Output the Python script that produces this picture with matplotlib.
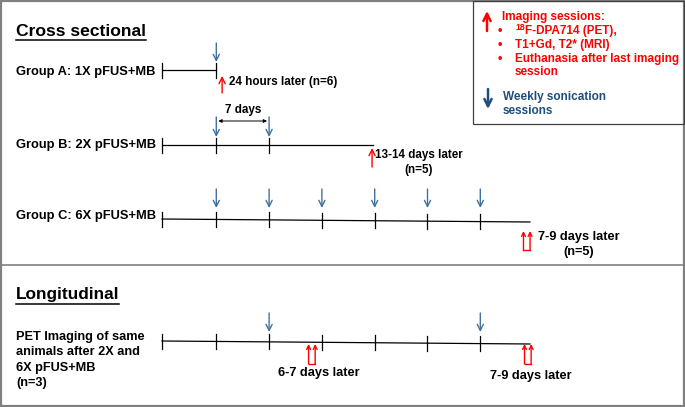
import matplotlib
matplotlib.use('Agg')
import matplotlib.pyplot as plt

# Timeline data, in weeks from the first (baseline) mark
week_ticks_a = [1]
sonication_a = [1]
imaging_a = [1.11]
end_a = 1.0

week_ticks_b = [1, 2]
sonication_b = [1, 2]
imaging_b = [3.95]
end_b = 3.97

week_ticks_c = [1, 2, 3, 4, 5, 6]
sonication_c = [1, 2, 3, 4, 5, 6]
imaging_c = [6.88]
end_c = 6.94

week_ticks_long = [1, 2, 3, 4, 5, 6]
sonication_long = [2, 6]
imaging_long = [2.81, 6.9]
end_long = 6.94

group_labels = ['Group A: 1X pFUS+MB', 'Group B: 2X pFUS+MB', 'Group C: 6X pFUS+MB']
long_label = ['PET Imaging of same', 'animals after 2X and', '6X pFUS+MB', '(n=3)']
legend_red_lines = ['F-DPA714 (PET),', 'T1+Gd, T2* (MRI)',
                    'Euthanasia after last imaging', 'session']
legend_blue_lines = ['Weekly sonication', 'sessions']

RED = '#FF0000'
BLUE = '#41719C'
DARK_BLUE = '#1F4E79'
FONT = 'Liberation Sans'

X0 = 163.5      # pixel x of week 0
WEEK = 52.8     # pixels per week


def wx(w):
    return X0 + WEEK * w


fig = plt.figure(figsize=(6.85, 4.07), dpi=100)
ax = fig.add_axes([0, 0, 1, 1])
ax.set_xlim(0, 685)
ax.set_ylim(407, 0)
ax.axis('off')

plt.rcParams['font.family'] = FONT
plt.rcParams['font.weight'] = 'bold'


def arrow(x, y_from, y_to, color, lw=1.0, ms=11):
    ax.annotate('', xy=(x, y_to), xytext=(x, y_from),
                arrowprops=dict(arrowstyle='->', color=color, lw=lw,
                                shrinkA=0, shrinkB=0, mutation_scale=ms))


def double_arrow(x, y_bottom, y_top):
    for dx in (-3.3, 3.3):
        arrow(x + dx, y_bottom, y_top, RED, lw=1.0, ms=7)
    ax.plot([x - 3.3, x + 3.3], [y_bottom, y_bottom], color=RED, lw=1.0)


def timeline(y_start, y_end, end_week, ticks, half=7.5):
    xs, xe = 162, wx(end_week)
    ax.plot([xs, xe], [y_start, y_end], color='black', lw=0.9)

    def line_y(x):
        return y_start + (y_end - y_start) * (x - xs) / (xe - xs)
    ax.plot([xs, xs], [y_start - half, y_start + half], color='black', lw=0.9)
    for w in ticks:
        x = wx(w)
        ax.plot([x, x], [line_y(x) - half, line_y(x) + half], color='black', lw=0.9)
    return line_y


# outer frame and divider
ax.add_patch(plt.Rectangle((1, 1), 683, 405, fill=False, ec='#808080', lw=1.6))
ax.plot([1, 684], [265, 265], color='#808080', lw=1.2)

# legend box
ax.add_patch(plt.Rectangle((473, 1), 211, 123, fill=False, ec='#404040', lw=0.9))

# section titles
titles = []
titles.append(ax.text(16, 31, 'Cross sectional', fontsize=12.6, va='center'))
titles.append(ax.text(16, 295, 'Longitudinal', fontsize=12.4, va='center'))

# Group A
ax.text(16, 72, group_labels[0], fontsize=9.3, va='center')
timeline(70, 70, end_a, week_ticks_a)
for w in sonication_a:
    arrow(wx(w), 43, 62, BLUE)
for w in imaging_a:
    arrow(wx(w), 93, 76, RED)
ax.text(229, 82, '24 hours later (n=6)', fontsize=8.4, va='center')

# Group B
ax.text(16, 145, group_labels[1], fontsize=9.3, va='center')
timeline(145, 145, end_b, week_ticks_b)
for w in sonication_b:
    arrow(wx(w), 117, 137, BLUE)
ax.annotate('', xy=(wx(sonication_b[1]) - 2, 121), xytext=(wx(sonication_b[0]) + 2, 121),
            arrowprops=dict(arrowstyle='<|-|>', color='black', lw=0.7,
                            shrinkA=0, shrinkB=0, mutation_scale=5))
ax.text((wx(1) + wx(2)) / 2, 110, '7 days', fontsize=8.4, va='center', ha='center')
for w in imaging_b:
    arrow(wx(w), 167, 148, RED)
ax.text(419, 155, '13-14 days later', fontsize=8.4, va='center', ha='center')
ax.text(419, 170, '(n=5)', fontsize=8.4, va='center', ha='center')

# Group C
ax.text(16, 216, group_labels[2], fontsize=9.3, va='center')
timeline(219, 222, end_c, week_ticks_c)
for w in sonication_c:
    arrow(wx(w), 189, 208, BLUE)
for w in imaging_c:
    double_arrow(wx(w), 250, 231)
ax.text(579, 237, '7-9 days later', fontsize=9.2, va='center', ha='center')
ax.text(579, 252, '(n=5)', fontsize=9.2, va='center', ha='center')

# Longitudinal
for i, line in enumerate(long_label):
    ax.text(16, 337 + 15.3 * i, line, fontsize=9.2, va='center')
timeline(341, 344, end_long, week_ticks_long)
for w in sonication_long:
    arrow(wx(w), 313, 332, BLUE)
for w in imaging_long:
    double_arrow(wx(w), 364, 344)
ax.text(319, 373, '6-7 days later', fontsize=9.2, va='center', ha='center')
ax.text(531, 376, '7-9 days later', fontsize=9.2, va='center', ha='center')

# legend contents
arrow(487, 31, 11, RED, lw=1.8, ms=13)
ax.text(502, 17, 'Imaging sessions:', fontsize=8.5, va='center', color=RED)
bullet_y = [31, 45, 59]
for y in bullet_y:
    ax.text(500, y, '\u2022', fontsize=9, va='center', ha='center', color=RED)
sup = ax.text(515, 28, '18', fontsize=6.3, va='center', color=RED)
ax.text(515, 45, legend_red_lines[1], fontsize=8.5, va='center', color=RED)
ax.text(515, 59, legend_red_lines[2], fontsize=8.5, va='center', color=RED)
ax.text(515, 72, legend_red_lines[3], fontsize=8.5, va='center', color=RED)
arrow(488, 89, 109, DARK_BLUE, lw=1.8, ms=13)
ax.text(503, 97, legend_blue_lines[0], fontsize=8.5, va='center', color=DARK_BLUE)
ax.text(503, 111, legend_blue_lines[1], fontsize=8.5, va='center', color=DARK_BLUE)

# place text after superscript and draw underlines using measured extents
fig.canvas.draw()
renderer = fig.canvas.get_renderer()
inv = ax.transData.inverted()
bb = sup.get_window_extent(renderer)
x_after = inv.transform((bb.x1, bb.y0))[0]
ax.text(x_after + 0.3, 31, legend_red_lines[0], fontsize=8.5, va='center', color=RED)

for t in titles:
    bb = t.get_window_extent(renderer)
    (x1, _), (x2, _) = inv.transform([(bb.x0, bb.y0), (bb.x1, bb.y0)])
    y_line = t.get_position()[1] + 8.5
    ax.plot([x1, x2], [y_line, y_line], color='black', lw=1.1)

fig.savefig('out.png', dpi=100)
